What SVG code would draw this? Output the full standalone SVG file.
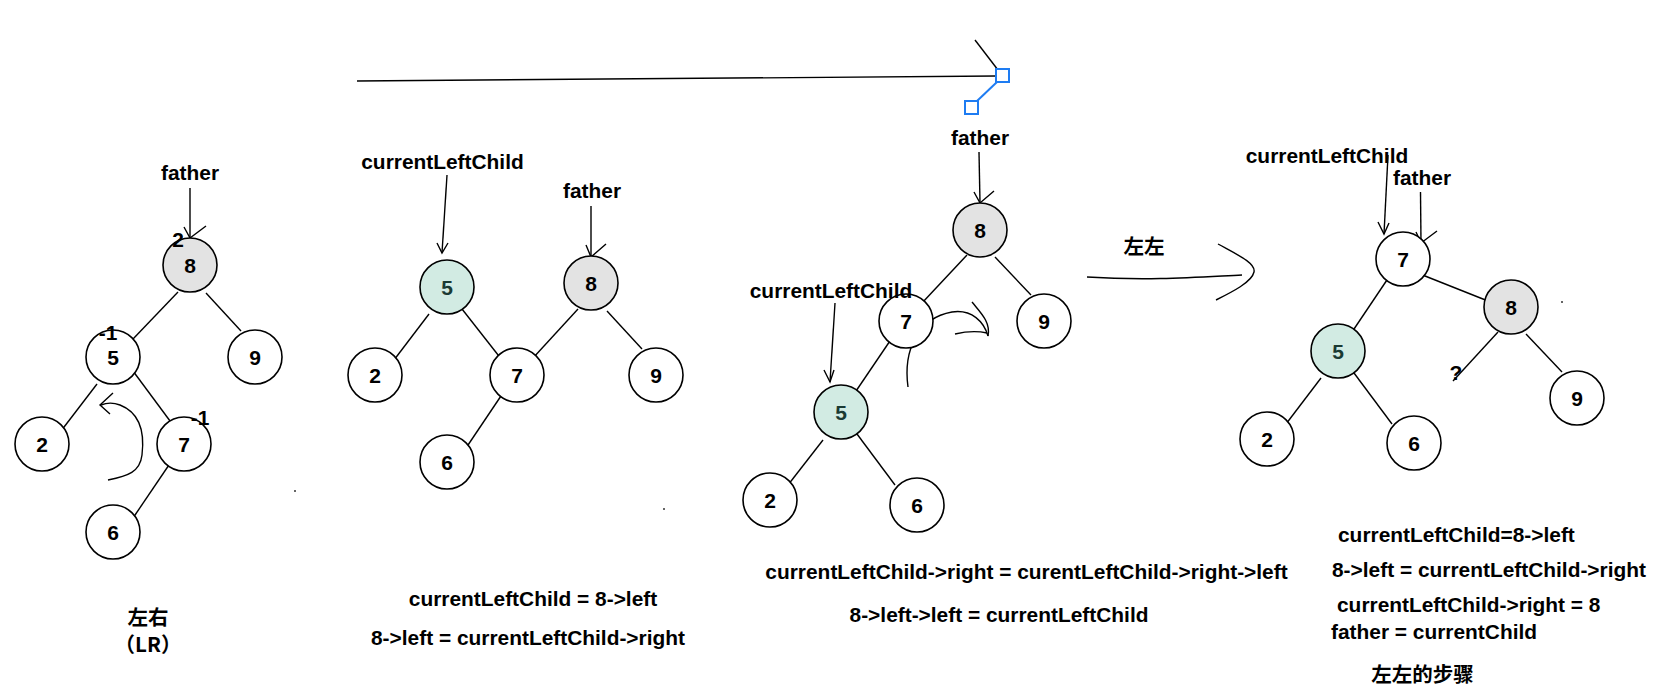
<svg xmlns="http://www.w3.org/2000/svg" width="1658" height="700" viewBox="0 0 1658 700">
<style>
text{font-family:"Liberation Sans",Arial,"Noto Sans CJK SC",sans-serif;font-weight:bold;font-size:20.9px;fill:#000}
.cjk{font-family:"Noto Sans CJK SC","Liberation Sans",sans-serif;font-size:20.5px}
.n{fill:#fff;stroke:#000;stroke-width:1.6}
.g{fill:#e3e3e3}
.gr{fill:#d2ebe3}
.num{text-anchor:middle;font-size:21px}
.gt{fill:#1a3a33}
.c{text-anchor:middle}
.e{stroke:#000;stroke-width:1.4;fill:none}
.h{stroke:#1e7cf2;stroke-width:2;fill:#fff}
</style>
<rect width="1658" height="700" fill="#fff"/>

<g id="connectors">
  <!-- panel 1 -->
  <line class="e" x1="178" y1="292" x2="133" y2="339"/>
  <line class="e" x1="206" y1="293" x2="241" y2="331"/>
  <line class="e" x1="97" y1="384" x2="61" y2="431"/>
  <line class="e" x1="133" y1="371" x2="173" y2="425"/>
  <line class="e" x1="173" y1="459" x2="133" y2="518"/>
  <line class="e" x1="190" y1="188" x2="190" y2="238"/>
  <polyline class="e" points="184,227 190,238 206,226"/>
  <path class="e" d="M108,480 C128,476 140,472 142,455 C145,430 138,412 120,405 C112,402 106,403 101,405"/>
  <polyline class="e" points="113,393 100,405 110,414"/>
  <!-- panel 2 -->
  <line class="e" x1="429" y1="314" x2="394" y2="360"/>
  <line class="e" x1="462" y1="309" x2="502" y2="360"/>
  <line class="e" x1="578" y1="309" x2="533" y2="358"/>
  <line class="e" x1="607" y1="311" x2="642" y2="349"/>
  <line class="e" x1="505" y1="390" x2="466" y2="448"/>
  <line class="e" x1="447" y1="175" x2="442" y2="253"/>
  <polyline class="e" points="437,243 442,253 448,243"/>
  <line class="e" x1="591" y1="206" x2="591" y2="257"/>
  <polyline class="e" points="586,245 591,257 606,244"/>
  <!-- top line with handles -->
  <line class="e" x1="357" y1="81" x2="996" y2="76"/>
  <line class="e" x1="975" y1="40" x2="998" y2="70"/>
  <line class="h" x1="977" y1="101" x2="997" y2="82"/>
  <rect class="h" x="996" y="69" width="13" height="13"/>
  <rect class="h" x="965" y="101" width="13" height="13"/>
  <!-- panel 3 -->
  <line class="e" x1="967" y1="255" x2="922" y2="303"/>
  <line class="e" x1="995" y1="257" x2="1031" y2="295"/>
  <line class="e" x1="894" y1="335" x2="854" y2="394"/>
  <line class="e" x1="823" y1="440" x2="788" y2="485"/>
  <line class="e" x1="857" y1="434" x2="895" y2="485"/>
  <line class="e" x1="979" y1="152" x2="980" y2="203"/>
  <polyline class="e" points="974,192 980,203 994,191"/>
  <line class="e" x1="835" y1="303" x2="830" y2="382"/>
  <polyline class="e" points="824,370 830,382 834,370"/>
  <path class="e" d="M908,387 C903,350 918,318 952,312 C972,309 984,322 988,336"/>
  <path class="e" d="M972,302 C980,312 991,322 988,336"/>
  <path class="e" d="M955,334 C968,331 978,331 987,333"/>
  <!-- 左左 transition arrow -->
  <path class="e" d="M1087,277 C1150,281 1200,277 1242,275"/>
  <path class="e" d="M1218,244 C1236,254 1256,263 1254,272 C1252,282 1232,292 1216,300"/>
  <!-- panel 4 -->
  <line class="e" x1="1391" y1="274" x2="1352" y2="332"/>
  <line class="e" x1="1420" y1="274" x2="1493" y2="303"/>
  <line class="e" x1="1498" y1="332" x2="1453" y2="381"/>
  <line class="e" x1="1526" y1="334" x2="1562" y2="372"/>
  <line class="e" x1="1321" y1="378" x2="1286" y2="424"/>
  <line class="e" x1="1354" y1="373" x2="1392" y2="424"/>
  <line class="e" x1="1388" y1="155" x2="1384" y2="234"/>
  <polyline class="e" points="1378,222 1384,234 1389,223"/>
  <line class="e" x1="1420.5" y1="192" x2="1421" y2="243"/>
  <polyline class="e" points="1416,232 1421,243 1437,231"/>
  <!-- stray dots -->
  <circle cx="295" cy="491" r="1" fill="#333"/>
  <circle cx="664" cy="509" r="1" fill="#333"/>
  <circle cx="1562" cy="302" r="1" fill="#333"/>
</g>

<!-- panel 1 nodes -->
<g id="p1-8"><circle class="n g" cx="190" cy="265" r="27"/><text class="num" x="190" y="272.5">8</text></g>
<g id="p1-5"><circle class="n" cx="113" cy="357" r="27"/><text class="num" x="113" y="364.5">5</text></g>
<g id="p1-9"><circle class="n" cx="255" cy="357" r="27"/><text class="num" x="255" y="364.5">9</text></g>
<g id="p1-2"><circle class="n" cx="42" cy="444" r="27"/><text class="num" x="42" y="451.5">2</text></g>
<g id="p1-7"><circle class="n" cx="184" cy="444" r="27"/><text class="num" x="184" y="451.5">7</text></g>
<g id="p1-6"><circle class="n" cx="113" cy="532" r="27"/><text class="num" x="113" y="539.5">6</text></g>
<g id="p1-labels">
  <text class="c" x="190" y="180">father</text>
  <text class="c" x="178" y="247">2</text>
  <text class="c" x="108" y="340">-1</text>
  <text class="c" x="200" y="425">-1</text>
  <text class="cjk c" x="148" y="625">左右</text>
  <text class="cjk c" x="148" y="652">（LR）</text>
</g>

<!-- panel 2 nodes -->
<g id="p2-5"><circle class="n gr" cx="447" cy="287" r="27"/><text class="num gt" x="447" y="294.5">5</text></g>
<g id="p2-8"><circle class="n g" cx="591" cy="283" r="27"/><text class="num" x="591" y="290.5">8</text></g>
<g id="p2-2"><circle class="n" cx="375" cy="375" r="27"/><text class="num" x="375" y="382.5">2</text></g>
<g id="p2-7"><circle class="n" cx="517" cy="375" r="27"/><text class="num" x="517" y="382.5">7</text></g>
<g id="p2-9"><circle class="n" cx="656" cy="375" r="27"/><text class="num" x="656" y="382.5">9</text></g>
<g id="p2-6"><circle class="n" cx="447" cy="462" r="27"/><text class="num" x="447" y="469.5">6</text></g>
<g id="p2-labels">
  <text class="c" x="442.5" y="169">currentLeftChild</text>
  <text class="c" x="592" y="198">father</text>
  <text class="c" x="533" y="606">currentLeftChild = 8-&gt;left</text>
  <text class="c" x="528" y="645">8-&gt;left = currentLeftChild-&gt;right</text>
</g>

<!-- panel 3 nodes -->
<g id="p3-8"><circle class="n g" cx="980" cy="230" r="27"/><text class="num" x="980" y="237.5">8</text></g>
<g id="p3-7"><circle class="n" cx="906" cy="321" r="27"/><text class="num" x="906" y="328.5">7</text></g>
<g id="p3-9"><circle class="n" cx="1044" cy="321" r="27"/><text class="num" x="1044" y="328.5">9</text></g>
<g id="p3-5"><circle class="n gr" cx="841" cy="412" r="27"/><text class="num gt" x="841" y="419.5">5</text></g>
<g id="p3-2"><circle class="n" cx="770" cy="500" r="27"/><text class="num" x="770" y="507.5">2</text></g>
<g id="p3-6"><circle class="n" cx="917" cy="505" r="27"/><text class="num" x="917" y="512.5">6</text></g>
<g id="p3-labels">
  <text class="c" x="980" y="145">father</text>
  <text class="c" x="831" y="298">currentLeftChild</text>
  <text class="c" x="1026.5" y="579">currentLeftChild-&gt;right = curentLeftChild-&gt;right-&gt;left</text>
  <text class="c" x="999" y="622">8-&gt;left-&gt;left = currentLeftChild</text>
  <text class="cjk c" x="1144" y="254">左左</text>
</g>

<!-- panel 4 nodes -->
<g id="p4-7"><circle class="n" cx="1403" cy="259" r="27"/><text class="num" x="1403" y="266.5">7</text></g>
<g id="p4-8"><circle class="n g" cx="1511" cy="307" r="27"/><text class="num" x="1511" y="314.5">8</text></g>
<g id="p4-5"><circle class="n gr" cx="1338" cy="351" r="27"/><text class="num gt" x="1338" y="358.5">5</text></g>
<g id="p4-2"><circle class="n" cx="1267" cy="439" r="27"/><text class="num" x="1267" y="446.5">2</text></g>
<g id="p4-6"><circle class="n" cx="1414" cy="443" r="27"/><text class="num" x="1414" y="450.5">6</text></g>
<g id="p4-9"><circle class="n" cx="1577" cy="398" r="27"/><text class="num" x="1577" y="405.5">9</text></g>
<g id="p4-labels">
  <text class="c" x="1327" y="163">currentLeftChild</text>
  <text class="c" x="1422" y="185">father</text>
  <text class="c" x="1456" y="380">?</text>
  <text x="1338" y="542">currentLeftChild=8-&gt;left</text>
  <text x="1332" y="577">8-&gt;left = currentLeftChild-&gt;right</text>
  <text x="1337" y="612">currentLeftChild-&gt;right = 8</text>
  <text x="1331" y="639">father = currentChild</text>
  <text class="cjk c" x="1422.5" y="682">左左的步骤</text>
</g>
</svg>
